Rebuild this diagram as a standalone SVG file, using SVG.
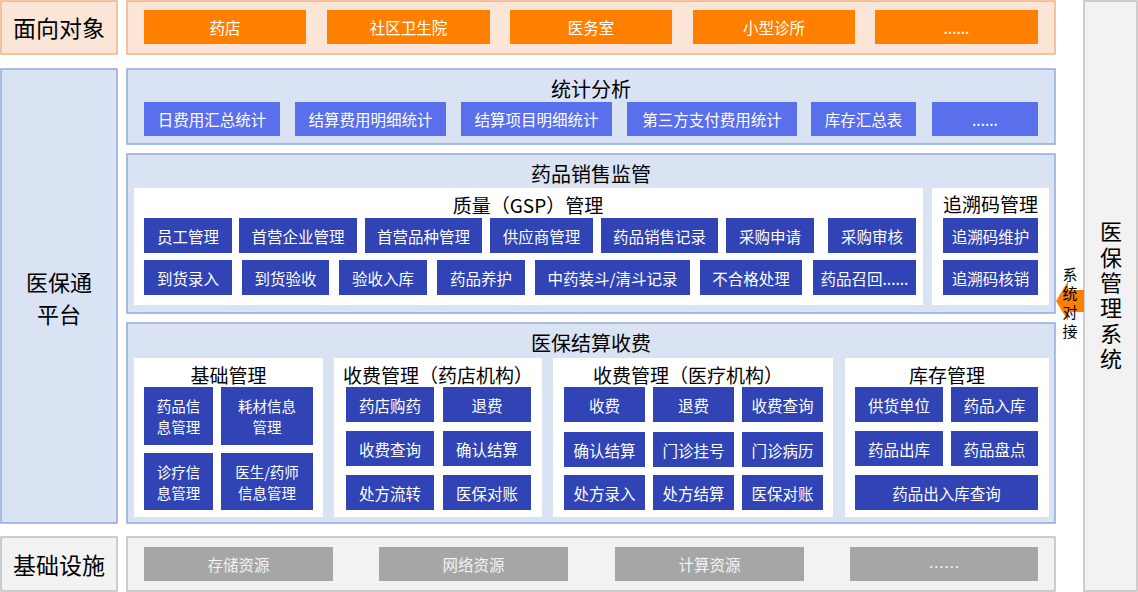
<svg xmlns="http://www.w3.org/2000/svg" width="1138" height="592" viewBox="0 0 1138 592">
<style>
text{font-family:"Noto Sans CJK SC","Microsoft YaHei",sans-serif;text-anchor:middle;dominant-baseline:central}
.lblO{fill:#fbe5d6;stroke:#f4b183;stroke-width:1.5}
.lblB{fill:#dae3f3;stroke:#8faadc;stroke-width:1.5}
.lblG{fill:#f2f2f2;stroke:#bfbfbf;stroke-width:1.5}
.wh{fill:#ffffff}
.or{fill:#ff7f00}
.lb{fill:#5a6fec}
.db{fill:#3044b5}
.gr{fill:#a6a6a6}
.big{font-size:23px;fill:#000}
.big2{font-size:22px;fill:#000}
.ttl{font-size:20px;fill:#000}
.sub{font-size:19px;fill:#000}
.bt{font-size:15.5px;fill:#fff}
.bt2{font-size:14.5px;fill:#fff}
.gt{font-size:15.5px;fill:#f2f2f2}
.side{font-size:22px;fill:#000;writing-mode:vertical-rl;letter-spacing:3.3px}
.sm{font-size:15px;fill:#000;writing-mode:vertical-rl;letter-spacing:4px}
</style>

<!-- Layer labels -->
<g id="label-target">
<rect class="lblO" x="1" y="1" width="116" height="53"/>
<text class="big" x="59" y="27">面向对象</text>
</g>
<g id="label-platform">
<rect class="lblB" x="1" y="69" width="116" height="454"/>
<text class="big2" x="59" y="281">医保通</text>
<text class="big2" x="59" y="313">平台</text>
</g>
<g id="label-infra">
<rect class="lblG" x="1" y="537" width="116" height="54"/>
<text class="big" x="59" y="564">基础设施</text>
</g>

<!-- Target objects -->
<g id="targets">
<rect class="lblO" x="127" y="1" width="928" height="53"/>
<rect class="or" x="144" y="10" width="162" height="34"/><text class="bt" x="225" y="27">药店</text>
<rect class="or" x="327" y="10" width="163" height="34"/><text class="bt" x="408.5" y="27">社区卫生院</text>
<rect class="or" x="510" y="10" width="162" height="34"/><text class="bt" x="591" y="27">医务室</text>
<rect class="or" x="693" y="10" width="162" height="34"/><text class="bt" x="774" y="27">小型诊所</text>
<rect class="or" x="875" y="10" width="163" height="34"/><text class="bt" x="956.5" y="27">......</text>
</g>

<!-- Statistics -->
<g id="stats">
<rect class="lblB" x="127" y="69" width="928" height="75"/>
<text class="ttl" x="591" y="88">统计分析</text>
<rect class="lb" x="144" y="102" width="136" height="34"/><text class="bt" x="212" y="119">日费用汇总统计</text>
<rect class="lb" x="295" y="102" width="151" height="34"/><text class="bt" x="370.5" y="119">结算费用明细统计</text>
<rect class="lb" x="461" y="102" width="151" height="34"/><text class="bt" x="536.5" y="119">结算项目明细统计</text>
<rect class="lb" x="627" y="102" width="170" height="34"/><text class="bt" x="712" y="119">第三方支付费用统计</text>
<rect class="lb" x="811" y="102" width="105" height="34"/><text class="bt" x="863.5" y="119">库存汇总表</text>
<rect class="lb" x="932" y="102" width="106" height="34"/><text class="bt" x="985" y="119">......</text>
</g>

<!-- Drug sales supervision -->
<g id="sales">
<rect class="lblB" x="127" y="154" width="928" height="159"/>
<text class="ttl" x="591" y="173">药品销售监管</text>
<rect class="wh" x="134" y="188" width="789" height="117"/>
<text class="sub" x="528" y="204">质量（GSP）管理</text>
<rect class="db" x="144" y="218" width="88" height="35"/><text class="bt" x="188" y="235.5">员工管理</text>
<rect class="db" x="239" y="218" width="118" height="35"/><text class="bt" x="298" y="235.5">首营企业管理</text>
<rect class="db" x="365" y="218" width="117" height="35"/><text class="bt" x="423.5" y="235.5">首营品种管理</text>
<rect class="db" x="490" y="218" width="103" height="35"/><text class="bt" x="541.5" y="235.5">供应商管理</text>
<rect class="db" x="601" y="218" width="117" height="35"/><text class="bt" x="659.5" y="235.5">药品销售记录</text>
<rect class="db" x="726" y="218" width="88" height="35"/><text class="bt" x="770" y="235.5">采购申请</text>
<rect class="db" x="828" y="218" width="88" height="35"/><text class="bt" x="872" y="235.5">采购审核</text>
<rect class="db" x="144" y="260" width="88" height="35"/><text class="bt" x="188" y="277.5">到货录入</text>
<rect class="db" x="242" y="260" width="87" height="35"/><text class="bt" x="285.5" y="277.5">到货验收</text>
<rect class="db" x="339" y="260" width="88" height="35"/><text class="bt" x="383" y="277.5">验收入库</text>
<rect class="db" x="437" y="260" width="88" height="35"/><text class="bt" x="481" y="277.5">药品养护</text>
<rect class="db" x="535" y="260" width="155" height="35"/><text class="bt" x="612.5" y="277.5">中药装斗/清斗记录</text>
<rect class="db" x="700" y="260" width="102" height="35"/><text class="bt" x="751" y="277.5">不合格处理</text>
<rect class="db" x="813" y="260" width="103" height="35"/><text class="bt" x="864.5" y="277.5">药品召回......</text>
<rect class="wh" x="932" y="188" width="117" height="117"/>
<text class="sub" x="990.5" y="203">追溯码管理</text>
<rect class="db" x="943" y="218" width="95" height="35"/><text class="bt" x="990.5" y="235.5">追溯码维护</text>
<rect class="db" x="943" y="260" width="95" height="35"/><text class="bt" x="990.5" y="277.5">追溯码核销</text>
</g>

<!-- Settlement -->
<g id="settlement">
<rect class="lblB" x="127" y="323" width="928" height="200"/>
<text class="ttl" x="591" y="342">医保结算收费</text>
</g>
<g id="basic-mgmt">
<rect class="wh" x="134" y="358" width="189" height="159"/>
<text class="sub" x="228.5" y="374">基础管理</text>
<rect class="db" x="144" y="387" width="69" height="58"/><text class="bt2" x="178.5" y="405.5">药品信</text><text class="bt2" x="178.5" y="426.5">息管理</text>
<rect class="db" x="221" y="387" width="92" height="58"/><text class="bt2" x="267" y="405.5">耗材信息</text><text class="bt2" x="267" y="426.5">管理</text>
<rect class="db" x="144" y="453" width="69" height="57"/><text class="bt2" x="178.5" y="471">诊疗信</text><text class="bt2" x="178.5" y="492">息管理</text>
<rect class="db" x="221" y="453" width="92" height="57"/><text class="bt2" x="267" y="471">医生/药师</text><text class="bt2" x="267" y="492">信息管理</text>
</g>
<g id="fee-pharmacy">
<rect class="wh" x="334" y="358" width="208" height="159"/>
<text class="sub" x="438" y="374">收费管理（药店机构）</text>
<rect class="db" x="346" y="387" width="88" height="35"/><text class="bt" x="390" y="404.5">药店购药</text>
<rect class="db" x="443" y="387" width="88" height="35"/><text class="bt" x="487" y="404.5">退费</text>
<rect class="db" x="346" y="431" width="88" height="35"/><text class="bt" x="390" y="448.5">收费查询</text>
<rect class="db" x="443" y="431" width="88" height="35"/><text class="bt" x="487" y="448.5">确认结算</text>
<rect class="db" x="346" y="475" width="88" height="35"/><text class="bt" x="390" y="492.5">处方流转</text>
<rect class="db" x="443" y="475" width="88" height="35"/><text class="bt" x="487" y="492.5">医保对账</text>
</g>
<g id="fee-medical">
<rect class="wh" x="553" y="358" width="280" height="159"/>
<text class="sub" x="688" y="374">收费管理（医疗机构）</text>
<rect class="db" x="564" y="387" width="81" height="35"/><text class="bt" x="604.5" y="404.5">收费</text>
<rect class="db" x="653" y="387" width="81" height="35"/><text class="bt" x="693.5" y="404.5">退费</text>
<rect class="db" x="742" y="387" width="81" height="35"/><text class="bt" x="782.5" y="404.5">收费查询</text>
<rect class="db" x="564" y="432" width="81" height="35"/><text class="bt" x="604.5" y="449.5">确认结算</text>
<rect class="db" x="653" y="432" width="81" height="35"/><text class="bt" x="693.5" y="449.5">门诊挂号</text>
<rect class="db" x="742" y="432" width="81" height="35"/><text class="bt" x="782.5" y="449.5">门诊病历</text>
<rect class="db" x="564" y="475" width="81" height="35"/><text class="bt" x="604.5" y="492.5">处方录入</text>
<rect class="db" x="653" y="475" width="81" height="35"/><text class="bt" x="693.5" y="492.5">处方结算</text>
<rect class="db" x="742" y="475" width="81" height="35"/><text class="bt" x="782.5" y="492.5">医保对账</text>
</g>
<g id="inventory">
<rect class="wh" x="845" y="358" width="204" height="159"/>
<text class="sub" x="947" y="374">库存管理</text>
<rect class="db" x="855" y="387" width="88" height="35"/><text class="bt" x="899" y="404.5">供货单位</text>
<rect class="db" x="951" y="387" width="87" height="35"/><text class="bt" x="994.5" y="404.5">药品入库</text>
<rect class="db" x="855" y="431" width="88" height="35"/><text class="bt" x="899" y="448.5">药品出库</text>
<rect class="db" x="951" y="431" width="87" height="35"/><text class="bt" x="994.5" y="448.5">药品盘点</text>
<rect class="db" x="855" y="475" width="183" height="35"/><text class="bt" x="946.5" y="492.5">药品出入库查询</text>
</g>

<!-- Infrastructure -->
<g id="infra">
<rect class="lblG" x="127" y="537" width="928" height="54"/>
<rect class="gr" x="144" y="547" width="189" height="34"/><text class="gt" x="238.5" y="564">存储资源</text>
<rect class="gr" x="379" y="547" width="189" height="34"/><text class="gt" x="473.5" y="564">网络资源</text>
<rect class="gr" x="615" y="547" width="189" height="34"/><text class="gt" x="709.5" y="564">计算资源</text>
<rect class="gr" x="850" y="547" width="188" height="34"/><text class="gt" x="944" y="566">……</text>
</g>

<!-- Right: medical insurance management system -->
<g id="mis">
<rect class="lblG" x="1084" y="1" width="53" height="590"/>
<text class="side" x="1111" y="297">医保管理系统</text>
</g>

<!-- Connector -->
<g id="connectors">
<polygon fill="#ff7f00" points="1056,301 1068,281 1068,290 1084,290 1084,312 1068,312 1068,321"/>
<text class="sm" x="1070" y="305">系统对接</text>
</g>
</svg>
